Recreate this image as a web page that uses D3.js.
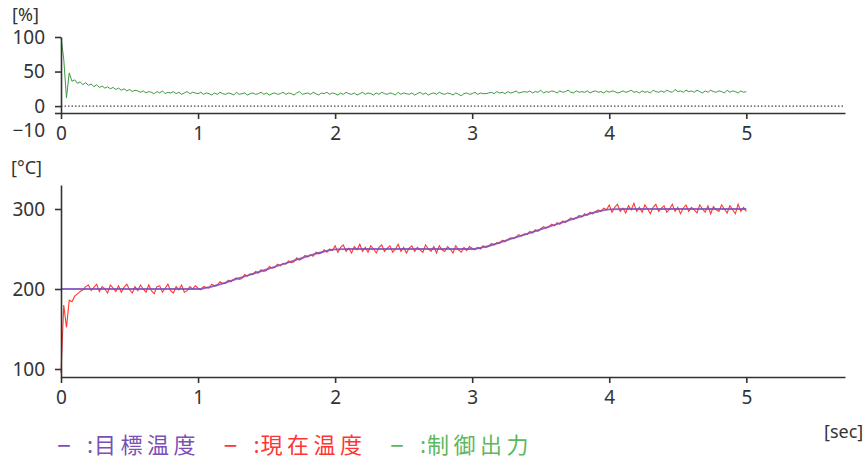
<!DOCTYPE html>
<html>
<head>
<meta charset="utf-8">
<script src="https://cdn.jsdelivr.net/npm/d3@7"></script>
<style>
	body { margin: 0; background: #fff; }
	svg text { font-family: "Noto Sans", "Noto Sans CJK JP", sans-serif; }
</style>
</head>
<body>
<div id="chart"></div>
<script>
// サンプル間隔 [sec]
var sampleStep = 0.02
var targetStep = 0.1

// 目標温度 (0.1秒ごと)
var targetTemp = [
	200, 200, 200, 200, 200, 200, 200, 200, 200, 200,
	200, 203, 208, 213.5, 219, 224.5, 230, 235.5, 241, 246,
	249.5, 250, 250, 250, 250, 250, 250, 250, 250, 250,
	250, 253, 258, 263.5, 269, 274.5, 280, 285.5, 291, 296,
	299.5, 300, 300, 300, 300, 300, 300, 300, 300, 300,
	300
]

// 現在温度 (0.02秒ごと)
var currentTemp = [
	95, 180, 152, 186, 184, 191, 194, 197, 199, 203,
	205, 198, 202, 206, 197, 203, 200, 195, 205, 201,
	197, 204, 196, 202, 206, 199, 195, 203, 198, 205,
	200, 196, 205, 198, 194, 203, 204, 196, 201, 206,
	198, 195, 203, 199, 205, 196, 198, 203, 200, 204,
	201, 199, 203, 202, 201, 206, 204, 205, 209, 207,
	207, 211, 209, 212, 214, 212, 213, 218, 216, 219,
	218, 222, 220, 224, 222, 223, 228, 226, 227, 231,
	229, 232, 231, 235, 233, 234, 239, 236, 238, 242,
	240, 243, 241, 246, 244, 245, 249, 246, 250, 248,
	254, 246, 252, 255, 247, 251, 245, 253, 249, 256,
	247, 252, 246, 254, 250, 245, 252, 255, 247, 251,
	254, 246, 250, 256, 247, 252, 245, 251, 254, 247,
	252, 249, 246, 255, 250, 247, 253, 245, 254, 249,
	247, 253, 250, 245, 254, 249, 246, 252, 248, 253,
	251, 249, 252, 250, 254, 252, 253, 257, 255, 258,
	257, 261, 259, 262, 264, 263, 265, 268, 266, 269,
	268, 272, 270, 274, 272, 275, 278, 276, 278, 281,
	279, 283, 281, 285, 283, 286, 289, 287, 289, 292,
	290, 294, 292, 296, 294, 297, 299, 297, 301, 299,
	305, 296, 302, 306, 297, 301, 295, 304, 299, 307,
	297, 302, 296, 305, 300, 294, 302, 306, 297, 301,
	304, 296, 300, 306, 297, 302, 294, 301, 305, 297,
	302, 299, 295, 305, 300, 296, 304, 294, 303, 299,
	297, 305, 300, 295, 304, 299, 294, 306, 297, 302,
	297
]

// 制御出力 [%] (0.02秒ごと)
var controlOut = [
	100, 68, 12, 48, 36, 38, 33, 35, 31, 34,
	30, 32, 28, 31, 27, 29, 26, 28, 25, 27,
	24, 26, 23, 25, 22, 24, 21, 23, 22, 20,
	22, 19, 21, 20, 18, 21, 19, 22, 18, 20,
	19, 21, 18, 20, 17, 19, 21, 18, 20, 19,
	18, 20, 17, 19, 18, 16, 19, 17, 20, 18,
	17, 19, 18, 16, 20, 17, 18, 19, 16, 18,
	19, 17, 18, 20, 17, 19, 16, 18, 19, 17,
	18, 20, 17, 19, 18, 16, 19, 21, 17, 18,
	19, 17, 20, 18, 16, 19, 18, 20, 17, 19,
	18, 16, 19, 17, 20, 18, 17, 19, 16, 18,
	20, 17, 19, 18, 16, 19, 17, 20, 18, 17,
	19, 18, 16, 20, 17, 19, 18, 17, 19, 16,
	18, 20, 17, 19, 16, 18, 19, 17, 20, 18,
	17, 19, 18, 16, 19, 17, 15, 18, 19, 17,
	18, 20, 17, 19, 18, 18, 19, 20, 18, 21,
	19, 20, 18, 21, 19, 20, 22, 19, 20, 21,
	20, 22, 19, 21, 20, 23, 19, 21, 20, 22,
	21, 19, 22, 20, 21, 23, 20, 19, 22, 20,
	21, 20, 22, 19, 21, 22, 20, 21, 19, 22,
	20, 22, 21, 19, 20, 22, 20, 21, 23, 20,
	21, 19, 22, 20, 21, 19, 23, 21, 20, 22,
	20, 23, 21, 20, 24, 21, 22, 20, 23, 21,
	22, 20, 23, 21, 19, 22, 20, 23, 21, 20,
	22, 21, 19, 23, 20, 22, 21, 19, 22, 20,
	21
]

var xTicks = [0, 1, 2, 3, 4, 5]
var outTicks = [100, 50, 0, -10]
var tempTicks = [300, 200, 100]

var legendItems = [
	{label: "目標温度", color: "#7c4fb6"},
	{label: "現在温度", color: "#ff3535"},
	{label: "制御出力", color: "#5cb85c"}
]

var width = 866
var height = 459
var axisColor = "#333"

var svg = d3.select("#chart").append("svg")
	.attr("width", width)
	.attr("height", height)

var x = d3.scaleLinear().domain([0, 5.72]).range([61, 845])
var yOut = d3.scaleLinear().domain([-10, 100]).range([113, 37])
var yTemp = d3.scaleLinear().domain([90, 330]).range([377, 185])

function styleAxis(g) {
	g.select(".domain").attr("stroke", axisColor).attr("stroke-width", 1.6)
	g.selectAll(".tick line").attr("stroke", axisColor).attr("stroke-width", 1.6)
	g.selectAll(".tick text").attr("fill", axisColor).attr("font-size", 19)
		.attr("font-family", "'Noto Sans', sans-serif")
}

// 上段: 制御出力
var gTop = svg.append("g")

gTop.append("line")
	.attr("x1", x(0)).attr("x2", 843)
	.attr("y1", yOut(0)).attr("y2", yOut(0))
	.attr("stroke", "#444")
	.attr("stroke-width", 1.2)
	.attr("stroke-dasharray", "1.5,2")

var outLine = d3.line()
	.x(function(d, i) { return x(i * sampleStep) })
	.y(function(d) { return yOut(d) })

gTop.append("path")
	.datum(controlOut)
	.attr("d", outLine)
	.attr("fill", "none")
	.attr("stroke", "#3f9a3f")
	.attr("stroke-width", 1)

gTop.append("g")
	.attr("transform", "translate(0," + yOut(-10) + ")")
	.call(d3.axisBottom(x).tickValues(xTicks).tickFormat(d3.format("d")).tickSize(6).tickPadding(8).tickSizeOuter(0))
	.call(styleAxis)

gTop.append("g")
	.attr("transform", "translate(" + x(0) + ",0)")
	.call(d3.axisLeft(yOut).tickValues(outTicks).tickSize(6).tickPadding(10).tickSizeOuter(0))
	.call(styleAxis)
	.selectAll(".tick text")
	.attr("dy", function(d) { return d == -10 ? "1.25em" : "0.32em" })

// 下段: 温度
var gBottom = svg.append("g")

var tempLine = d3.line()
	.x(function(d, i) { return x(i * sampleStep) })
	.y(function(d) { return yTemp(d) })

var targetLine = d3.line()
	.x(function(d, i) { return x(i * targetStep) })
	.y(function(d) { return yTemp(d) })
	.curve(d3.curveMonotoneX)

gBottom.append("path")
	.datum(currentTemp)
	.attr("d", tempLine)
	.attr("fill", "none")
	.attr("stroke", "#ff3a2a")
	.attr("stroke-width", 1.1)

gBottom.append("path")
	.datum(targetTemp)
	.attr("d", targetLine)
	.attr("fill", "none")
	.attr("stroke", "#7a4cc0")
	.attr("stroke-opacity", 0.85)
	.attr("stroke-width", 1.8)

gBottom.append("g")
	.attr("transform", "translate(0," + yTemp(90) + ")")
	.call(d3.axisBottom(x).tickValues(xTicks).tickFormat(d3.format("d")).tickSize(6).tickPadding(8).tickSizeOuter(0))
	.call(styleAxis)

gBottom.append("g")
	.attr("transform", "translate(" + x(0) + ",0)")
	.call(d3.axisLeft(yTemp).tickValues(tempTicks).tickSize(6).tickPadding(10).tickSizeOuter(0))
	.call(styleAxis)

// 単位ラベル
var units = [
	{text: "[%]", x: 12, y: 21},
	{text: "[°C]", x: 11, y: 174},
	{text: "[sec]", x: 824, y: 438}
]
svg.selectAll(".unit")
	.data(units)
	.enter().append("text")
	.attr("class", "unit")
	.attr("x", function(d) { return d.x })
	.attr("y", function(d) { return d.y })
	.attr("fill", axisColor)
	.attr("font-size", 18)
	.text(function(d) { return d.text })

// 凡例
var legend = svg.selectAll(".legend")
	.data(legendItems)
	.enter().append("text")
	.attr("class", "legend")
	.attr("y", 453)
	.attr("fill", function(d) { return d.color })
	.attr("font-size", 22)
	.style("font-family", "'Noto Sans CJK JP', sans-serif")

function legendX(i) { return 58 + i * 166.5 }

legend.append("tspan")
	.attr("x", function(d, i) { return legendX(i) - 1 })
	.attr("font-size", 26)
	.text("–")
legend.append("tspan")
	.attr("x", function(d, i) { return legendX(i) + 29 })
	.text(":")
legend.append("tspan")
	.attr("x", function(d, i) { return legendX(i) + 36 })
	.attr("letter-spacing", 4.5)
	.text(function(d) { return d.label })
</script>
</body>
</html>
